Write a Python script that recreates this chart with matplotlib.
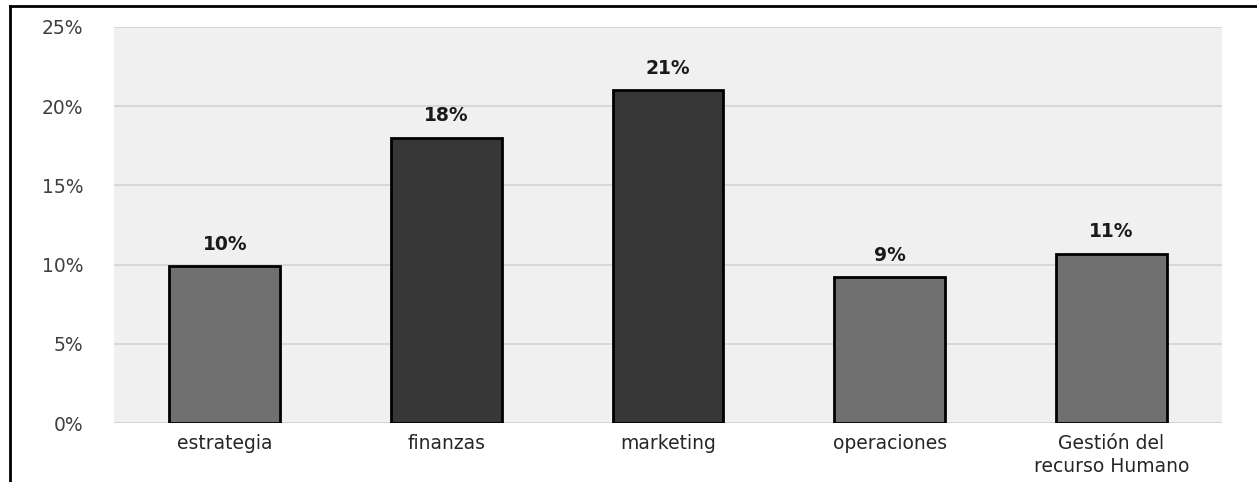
import matplotlib.pyplot as plt
from matplotlib.lines import Line2D
from matplotlib.ticker import PercentFormatter

# data
categorias = ["estrategia", "finanzas", "marketing", "operaciones", "Gestión del\nrecurso Humano"]
valores = [9.9, 18.0, 21.0, 9.2, 10.7]
etiquetas = ["10%", "18%", "21%", "9%", "11%"]
colores = ["#707070", "#373737", "#373737", "#707070", "#707070"]

plt.rcParams["font.family"] = ["DejaVu Sans"]

fig = plt.figure(figsize=(12.57, 4.82), dpi=100)
ax = fig.add_axes([0.0907, 0.1224, 0.8815, 0.8216])
ax.set_facecolor("#f0f0f0")

x = range(len(categorias))
bars = ax.bar(x, valores, width=0.5, color=colores, edgecolor="black", linewidth=2, zorder=3)

for b, t in zip(bars, etiquetas):
    ax.annotate(t, (b.get_x() + b.get_width() / 2, b.get_height()),
                xytext=(0, 9), textcoords="offset points",
                ha="center", va="bottom", fontsize=13.5, fontweight="bold", color="#1a1a1a")

ax.set_xlim(-0.5, len(categorias) - 0.5)
ax.set_ylim(0, 25)
ax.set_yticks([0, 5, 10, 15, 20, 25])
ax.yaxis.set_major_formatter(PercentFormatter(decimals=0))
ax.set_xticks(list(x))
ax.set_xticklabels(categorias, linespacing=1.25)
ax.tick_params(axis="y", length=0, pad=22, labelsize=13.5, labelcolor="#404040")
ax.tick_params(axis="x", length=0, pad=8, labelsize=13.5, labelcolor="#262626")
ax.grid(axis="y", color="#d4d4d4", linewidth=1.2, zorder=0)
ax.set_axisbelow(True)
for s in ax.spines.values():
    s.set_visible(False)
ax.axhline(0, color="#d4d4d4", linewidth=1.2, zorder=1)

# marco exterior (arriba e izquierda)
fig.add_artist(Line2D([10 / 1257, 1], [1 - 6 / 482, 1 - 6 / 482], transform=fig.transFigure, color="black", linewidth=2))
fig.add_artist(Line2D([10 / 1257, 10 / 1257], [0, 1 - 6 / 482], transform=fig.transFigure, color="black", linewidth=2))

fig.savefig("out.png", dpi=100)
